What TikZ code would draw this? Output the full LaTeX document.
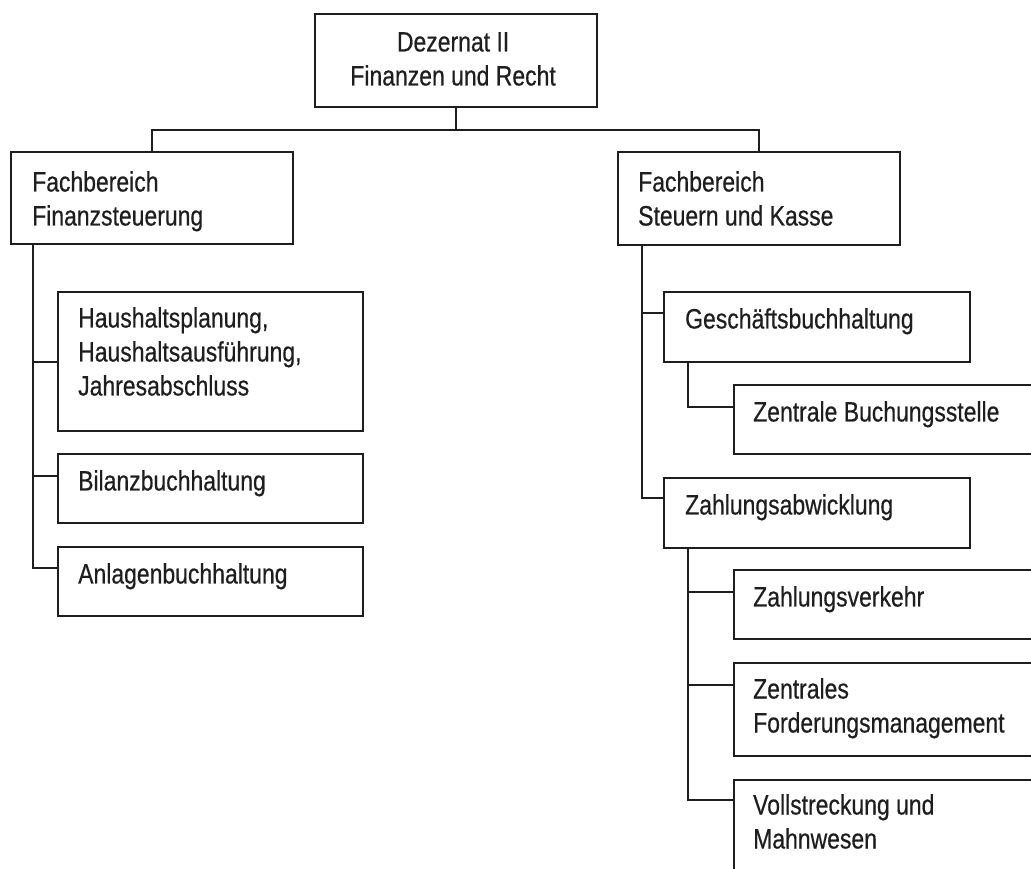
\documentclass[tikz,border=0pt]{standalone}
\usepackage{fontspec}
\setmainfont{Liberation Sans}[FakeStretch=0.82,FakeBold=0.5]
\usetikzlibrary{calc}
\definecolor{ink}{HTML}{1E1E1E}
\tikzset{
  orgbox/.style={draw=ink, line width=2.2pt, rectangle, inner sep=0pt, anchor=north west},
  txt/.style={inner sep=0pt, text=ink, align=left, anchor=north west, font=\fontsize{28}{34}\selectfont},
  conn/.style={draw=ink, line width=2.2pt}
}
\begin{document}
\begin{tikzpicture}[x=1pt,y=-1pt]
\useasboundingbox (0,0) rectangle (1031,868);
% boxes
\node[orgbox, minimum width=282pt, minimum height=93pt] (D) at (314,13) {};
\node[orgbox, minimum width=282pt, minimum height=92pt] (L) at (10,151) {};
\node[orgbox, minimum width=282pt, minimum height=93pt] (R) at (617,151) {};
\node[orgbox, minimum width=305pt, minimum height=139pt] (HP) at (57,291) {};
\node[orgbox, minimum width=305pt, minimum height=69pt] (BI) at (57,453) {};
\node[orgbox, minimum width=305pt, minimum height=69pt] (AN) at (57,546) {};
\node[orgbox, minimum width=306pt, minimum height=70pt] (GB) at (663,291) {};
\node[orgbox, minimum width=312pt, minimum height=69pt] (ZB) at (733,384) {};
\node[orgbox, minimum width=306pt, minimum height=70pt] (ZA) at (663,477) {};
\node[orgbox, minimum width=312pt, minimum height=69pt] (ZV) at (733,569) {};
\node[orgbox, minimum width=312pt, minimum height=93pt] (ZF) at (733,662) {};
\node[orgbox, minimum width=312pt, minimum height=110pt] (VM) at (733,779) {};
% texts
\node[txt, align=center, anchor=north] (tD) at ($(D.north)+(-3,19)$) {Dezernat II\\Finanzen und Recht};
\node[txt] (tL) at ($(L.north west)+(22,20)$) {Fachbereich\\Finanzsteuerung};
\node[txt] (tR) at ($(R.north west)+(21,20)$) {Fachbereich\\Steuern und Kasse};
\node[txt] (tHP) at ($(HP.north west)+(21,16)$) {Haushaltsplanung,\\Haushaltsausführung,\\Jahresabschluss};
\node[txt] (tBI) at ($(BI.north west)+(21,17)$) {Bilanzbuchhaltung};
\node[txt] (tAN) at ($(AN.north west)+(21,17)$) {Anlagenbuchhaltung};
\node[txt] (tGB) at ($(GB.north west)+(22,17)$) {Geschäftsbuchhaltung};
\node[txt] (tZB) at ($(ZB.north west)+(20,17)$) {Zentrale Buchungsstelle};
\node[txt] (tZA) at ($(ZA.north west)+(22,17)$) {Zahlungsabwicklung};
\node[txt] (tZV) at ($(ZV.north west)+(20,17)$) {Zahlungsverkehr};
\node[txt] (tZF) at ($(ZF.north west)+(20,16)$) {Zentrales\\Forderungsmanagement};
\node[txt] (tVM) at ($(VM.north west)+(20,15)$) {Vollstreckung und\\Mahnwesen};
% connectors
\coordinate (bus) at ($(D.south)+(0,22)$);
\draw[conn] (D.south) -- (bus);
\draw[conn] (L.north) |- (bus) -| (R.north);
\coordinate (lt) at ($(L.south west)+(23,0)$);
\draw[conn] (lt) |- (HP.west);
\draw[conn] (lt) |- ($(BI.north west)+(0,23)$);
\draw[conn] (lt) |- ($(AN.north west)+(0,22)$);
\coordinate (rt) at ($(R.south west)+(25,0)$);
\draw[conn] (rt) |- ($(GB.north west)+(0,22)$);
\draw[conn] (rt) |- ($(ZA.north west)+(0,21)$);
\coordinate (gt) at ($(GB.south west)+(25,0)$);
\draw[conn] (gt) |- ($(ZB.north west)+(0,23)$);
\coordinate (zt) at ($(ZA.south west)+(25,0)$);
\draw[conn] (zt) |- ($(ZV.north west)+(0,23)$);
\draw[conn] (zt) |- ($(ZF.north west)+(0,23)$);
\draw[conn] (zt) |- ($(VM.north west)+(0,21)$);
\end{tikzpicture}
\end{document}
